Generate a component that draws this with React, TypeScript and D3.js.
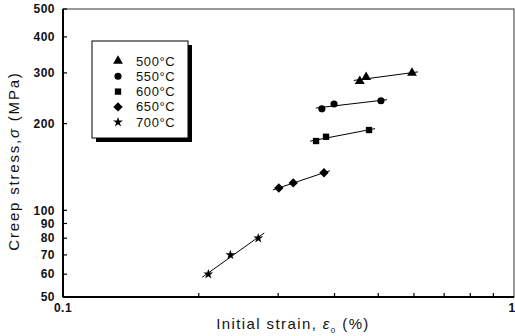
import React, { useRef, useEffect } from 'react';
import * as d3 from 'd3';

const temps = ['500°C', '550°C', '600°C', '650°C', '700°C'];
const strain500 = [0.455, 0.47, 0.594];
const stress500 = [281, 290, 300];
const strain550 = [0.375, 0.399, 0.507];
const stress550 = [225, 234, 240];
const strain600 = [0.364, 0.383, 0.477];
const stress600 = [174, 180, 190];
const strain650 = [0.301, 0.324, 0.379];
const stress650 = [119.5, 124.5, 135];
const strain700 = [0.21, 0.235, 0.271];
const stress700 = [60, 70, 80];

const yTicks = [50, 60, 70, 80, 90, 100, 200, 300, 400, 500];
const xMinor = [0.2, 0.3, 0.4, 0.5, 0.6, 0.7, 0.8, 0.9];
const xLabels = [0.1, 1];

// rotated square for the 650°C diamonds
const diamond = {
  draw(ctx, size) {
    const r = Math.sqrt(size / 2);
    ctx.moveTo(0, -r);
    ctx.lineTo(r, 0);
    ctx.lineTo(0, r);
    ctx.lineTo(-r, 0);
    ctx.closePath();
  },
};

const series = [
  { name: temps[0], sym: d3.symbolTriangle, size: 42, xs: strain500, ys: stress500 },
  { name: temps[1], sym: d3.symbolCircle, size: 40, xs: strain550, ys: stress550 },
  { name: temps[2], sym: d3.symbolSquare, size: 40, xs: strain600, ys: stress600 },
  { name: temps[3], sym: diamond, size: 44, xs: strain650, ys: stress650 },
  { name: temps[4], sym: d3.symbolStar, size: 30, xs: strain700, ys: stress700 },
];

const W = 515;
const H = 336;
const margin = { top: 9, right: 1, bottom: 39, left: 63 };
const font = '"Liberation Sans", Arial, sans-serif';

const App = () => {
  const svgRef = useRef(null);

  useEffect(() => {
    const svg = d3.select(svgRef.current);
    svg.selectAll('*').remove();

    const x = d3.scaleLog().domain([0.1, 1]).range([margin.left, W - margin.right]);
    const y = d3.scaleLog().domain([50, 500]).range([H - margin.bottom, margin.top]);

    // frame
    svg.append('rect')
      .attr('x', margin.left).attr('y', margin.top)
      .attr('width', x(1) - x(0.1)).attr('height', y(50) - y(500))
      .attr('fill', 'none').attr('stroke', '#333').attr('stroke-width', 1);
    svg.append('line')
      .attr('x1', x(0.1)).attr('x2', x(0.1)).attr('y1', y(500)).attr('y2', y(50))
      .attr('stroke', '#000').attr('stroke-width', 2);
    svg.append('line')
      .attr('x1', x(0.1)).attr('x2', x(1)).attr('y1', y(50)).attr('y2', y(50))
      .attr('stroke', '#000').attr('stroke-width', 2);

    // y ticks (inward)
    const yAxis = svg.append('g');
    yTicks.forEach(t => {
      yAxis.append('line')
        .attr('x1', x(0.1)).attr('x2', x(0.1) + 4)
        .attr('y1', y(t)).attr('y2', y(t))
        .attr('stroke', '#000').attr('stroke-width', 1.2);
      yAxis.append('text')
        .attr('x', x(0.1) - 8).attr('y', y(t))
        .attr('dy', '0.35em').attr('text-anchor', 'end')
        .attr('font-family', font).attr('font-size', 12).attr('font-weight', 'bold')
        .attr('letter-spacing', 0.5)
        .attr('fill', '#111')
        .text(t);
    });

    // x ticks
    const xAxis = svg.append('g');
    xMinor.forEach(t => {
      xAxis.append('line')
        .attr('x1', x(t)).attr('x2', x(t))
        .attr('y1', y(50)).attr('y2', y(50) - 4)
        .attr('stroke', '#000').attr('stroke-width', 1.2);
    });
    xLabels.forEach(t => {
      xAxis.append('text')
        .attr('x', x(t) - (t === 1 ? 2 : 0)).attr('y', y(50) + 15)
        .attr('text-anchor', 'middle')
        .attr('font-family', font).attr('font-size', 12).attr('font-weight', 'bold')
        .attr('letter-spacing', 0.5)
        .attr('fill', '#111')
        .text(t);
    });

    // axis titles
    svg.append('text')
      .attr('transform', `translate(19,${(y(50) + y(500)) / 2 + 8}) rotate(-90)`)
      .attr('text-anchor', 'middle')
      .attr('font-family', font).attr('font-size', 15).attr('letter-spacing', 1.8)
      .attr('fill', '#111')
      .html('Creep stress,<tspan font-style="italic">σ</tspan> (MPa)');
    svg.append('text')
      .attr('x', 293).attr('y', 329)
      .attr('text-anchor', 'middle')
      .attr('font-family', font).attr('font-size', 15).attr('letter-spacing', 1.4)
      .attr('fill', '#111')
      .html('Initial strain, <tspan font-style="italic">ε</tspan><tspan font-size="8" dy="4">0</tspan><tspan dy="-4"> (%)</tspan>');

    // fit lines + markers
    series.forEach(s => {
      const lx = s.xs.map(Math.log10);
      const ly = s.ys.map(Math.log10);
      const mx = d3.mean(lx), my = d3.mean(ly);
      const slope = d3.sum(lx, (v, i) => (v - mx) * (ly[i] - my)) / d3.sum(lx, v => (v - mx) ** 2);
      const px0 = x(d3.min(s.xs)) - 6;
      const px1 = x(d3.max(s.xs)) + 6;
      const fit = px => y(10 ** (my + slope * (Math.log10(x.invert(px)) - mx)));
      svg.append('line')
        .attr('x1', px0).attr('y1', fit(px0))
        .attr('x2', px1).attr('y2', fit(px1))
        .attr('stroke', '#000').attr('stroke-width', 1);
      svg.append('g').selectAll('path')
        .data(s.xs.map((v, i) => [v, s.ys[i]]))
        .join('path')
        .attr('transform', d => `translate(${x(d[0])},${y(d[1])})`)
        .attr('d', d3.symbol(s.sym, s.size))
        .attr('fill', '#000');
    });

    // legend
    const lg = svg.append('g').attr('transform', 'translate(92,41)');
    lg.append('rect').attr('x', 4).attr('y', 4).attr('width', 96).attr('height', 97).attr('fill', '#000');
    lg.append('rect').attr('x', 0).attr('y', 0).attr('width', 96).attr('height', 97)
      .attr('fill', '#fff').attr('stroke', '#000').attr('stroke-width', 1);
    series.forEach((s, i) => {
      const ry = 20 + i * 15.3;
      lg.append('path')
        .attr('transform', `translate(26,${ry})`)
        .attr('d', d3.symbol(s.sym, s.size))
        .attr('fill', '#000');
      lg.append('text')
        .attr('x', 44).attr('y', ry).attr('dy', '0.35em')
        .attr('font-family', font).attr('font-size', 13).attr('letter-spacing', 0.6)
        .attr('fill', '#111')
        .text(s.name);
    });
  }, []);

  return (
    <svg ref={svgRef} width={W} height={H}
      style={{ position: 'absolute', left: 0, top: 0, background: '#fff' }} />
  );
};

export default App;
